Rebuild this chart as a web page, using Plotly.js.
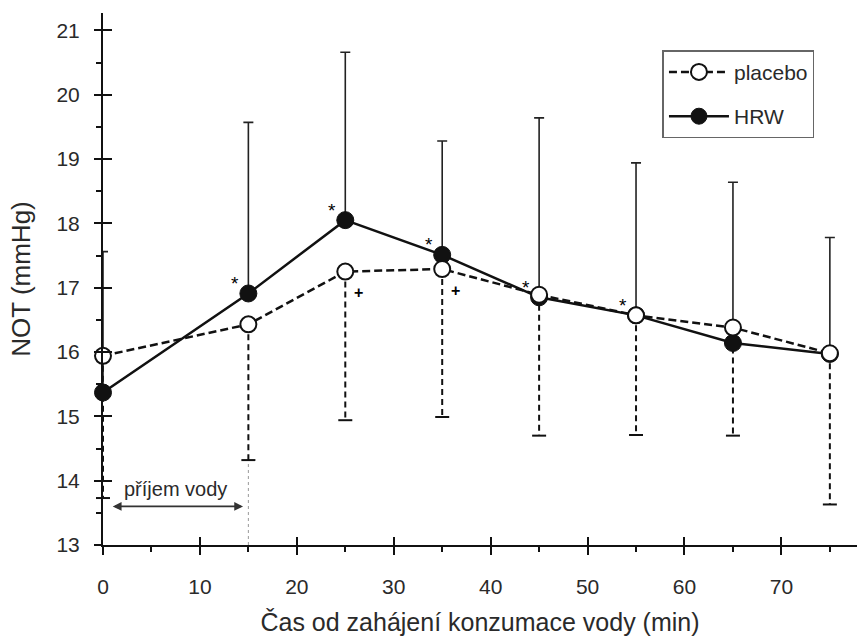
<!DOCTYPE html>
<html><head><meta charset="utf-8">
<script src="https://cdn.plot.ly/plotly-3.0.1.min.js"></script>
<style>html,body{margin:0;padding:0;background:#fff}</style>
</head><body>
<div id="chart" style="width:858px;height:636px"></div>
<script>
// ---- data ----
const time = [0, 15, 25, 35, 45, 55, 65, 75];
const placebo = [15.94, 16.43, 17.25, 17.29, 16.89, 16.57, 16.38, 15.98];
const placeboSDdown = [2.21, 2.11, 2.31, 2.30, 2.19, 1.86, 1.68, 2.35];
const hrw = [15.37, 16.91, 18.05, 17.51, 16.85, 16.57, 16.14, 15.97];
const hrwSDup = [2.19, 2.66, 2.61, 1.77, 2.79, 2.37, 2.50, 1.81];
const starTimes = [15, 25, 35, 45, 55];
const plusTimes = [25, 35];
const xTickVals = [0, 10, 20, 30, 40, 50, 60, 70];
const yTickVals = [13, 14, 15, 16, 17, 18, 19, 20, 21];
const intakeStart = 0, intakeEnd = 15;
const intakeLabel = 'příjem vody';
const xTitle = 'Čas od zahájení konzumace vody (min)';
const yTitle = 'NOT (mmHg)';

const FONT = 'Liberation Sans, Arial, sans-serif';
const INK = '#111111';
const TXT = '#2a2a2a';
const XR = [0, 77.8], YR = [13, 21.27];

const placeboLow = placebo.map((v, i) => v - placeboSDdown[i]);
const errX = [], errY = [];
time.forEach((t, i) => { errX.push(t, t, null); errY.push(placebo[i], placeboLow[i], null); });

const traces = [
  { // dashed placebo SD (downward)
    x: errX, y: errY, mode: 'lines', showlegend: false, hoverinfo: 'skip', cliponaxis: false,
    line: { color: INK, width: 2, dash: '6px,4px' }
  },
  { // caps for placebo SD
    x: time, y: placeboLow, mode: 'markers', showlegend: false, hoverinfo: 'skip', cliponaxis: false,
    marker: { symbol: 'line-ew-open', size: 10, color: INK, line: { color: INK, width: 2 } }
  },
  { // HRW
    name: 'HRW', legendgroup: 'a', legendrank: 2, x: time, y: hrw, mode: 'lines+markers', cliponaxis: false,
    line: { color: INK, width: 2.5 },
    marker: { symbol: 'circle', size: 17, color: INK, line: { color: INK, width: 1 } },
    error_y: { type: 'data', symmetric: false, array: hrwSDup, arrayminus: time.map(() => 0),
               color: '#222222', thickness: 1.6, width: 5 }
  },
  { // placebo
    name: 'placebo', legendgroup: 'b', legendrank: 1, x: time, y: placebo, mode: 'lines+markers', cliponaxis: false,
    line: { color: INK, width: 2.5, dash: '8px,4px' },
    marker: { symbol: 'circle', size: 16, color: '#ffffff', line: { color: INK, width: 2 } }
  },
  // invisible traces so that the overlay axes (inner half of crossing ticks) are drawn
  { x: [XR[0]], y: [YR[0]], xaxis: 'x2', yaxis: 'y', mode: 'markers', showlegend: false, hoverinfo: 'skip',
    marker: { size: 1, opacity: 0 } },
  { x: [XR[0]], y: [YR[0]], xaxis: 'x', yaxis: 'y2', mode: 'markers', showlegend: false, hoverinfo: 'skip',
    marker: { size: 1, opacity: 0 } }
];

const annotations = [];
starTimes.forEach(t => {
  const i = time.indexOf(t);
  annotations.push({ x: t, y: hrw[i], xref: 'x', yref: 'y', text: '*', showarrow: false,
    xshift: -13, yshift: 10, font: { family: FONT, size: 19, color: '#000000' } });
});
plusTimes.forEach(t => {
  const i = time.indexOf(t);
  annotations.push({ x: t, y: placebo[i], xref: 'x', yref: 'y', text: '<b>+</b>', showarrow: false,
    xshift: 13, yshift: -21, font: { family: FONT, size: 16, color: '#000000' } });
});
annotations.push({
  x: intakeEnd - 0.55, y: 13.6, ax: intakeStart + 0.85, ay: 13.6, xref: 'x', yref: 'y', axref: 'x', ayref: 'y',
  text: '', showarrow: true, arrowhead: 2, arrowside: 'end+start', arrowsize: 1.1, arrowwidth: 1.6, arrowcolor: '#333333'
});
annotations.push({
  x: (intakeStart + intakeEnd) / 2, y: 13.87, xref: 'x', yref: 'y', text: intakeLabel, showarrow: false,
  font: { family: FONT, size: 20, color: TXT }
});

const layout = {
  width: 858, height: 636,
  margin: { l: 103, r: 1, t: 13, b: 91 },
  paper_bgcolor: '#fff', plot_bgcolor: '#fff',
  font: { family: FONT, color: TXT, size: 20 },
  showlegend: true,
  legend: {
    x: 0.742, y: 0.93, xanchor: 'left', yanchor: 'top',
    bgcolor: '#fff', bordercolor: '#666', borderwidth: 1.5,
    font: { family: FONT, size: 21, color: TXT },
    traceorder: 'grouped', tracegroupgap: 14, itemwidth: 60
  },
  xaxis: {
    range: XR, tickvals: xTickVals, ticks: 'outside', ticklen: 8, tickwidth: 2, tickcolor: INK,
    showline: true, linecolor: INK, linewidth: 2, showgrid: false, zeroline: false,
    tickfont: { family: FONT, size: 21, color: TXT }, ticklabelstandoff: 14,
    minor: { dtick: 5, tick0: 0, ticks: 'outside', ticklen: 5, tickwidth: 2, tickcolor: INK, showgrid: false },
    title: { text: xTitle, font: { family: FONT, size: 25, color: TXT }, standoff: 17 },
    automargin: false
  },
  yaxis: {
    range: YR, tickvals: yTickVals, ticks: 'outside', ticklen: 7, tickwidth: 2, tickcolor: INK,
    showline: true, linecolor: INK, linewidth: 2, showgrid: false, zeroline: false,
    tickfont: { family: FONT, size: 21, color: TXT }, ticklabelstandoff: 10,
    minor: { dtick: 0.5, tick0: 13, ticks: 'outside', ticklen: 5, tickwidth: 2, tickcolor: INK, showgrid: false },
    title: { text: yTitle, font: { family: FONT, size: 26, color: TXT }, standoff: 18 },
    automargin: false
  },
  xaxis2: {
    overlaying: 'x', anchor: 'y', side: 'bottom', range: XR, tickvals: xTickVals,
    ticks: 'inside', ticklen: 8, tickwidth: 2, tickcolor: INK, showticklabels: false,
    showline: false, showgrid: false, zeroline: false
  },
  yaxis2: {
    overlaying: 'y', anchor: 'x', side: 'left', range: YR, tickvals: yTickVals,
    ticks: 'inside', ticklen: 9, tickwidth: 2, tickcolor: INK, showticklabels: false,
    showline: false, showgrid: false, zeroline: false
  },
  shapes: [{
    type: 'line', xref: 'x', yref: 'y', x0: intakeEnd, x1: intakeEnd, y0: 13, y1: placeboLow[time.indexOf(intakeEnd)],
    line: { color: '#999', width: 1, dash: 'dot' }, layer: 'below'
  }],
  annotations: annotations
};

Plotly.newPlot('chart', traces, layout, { staticPlot: true, displayModeBar: false });
</script>
</body></html>
